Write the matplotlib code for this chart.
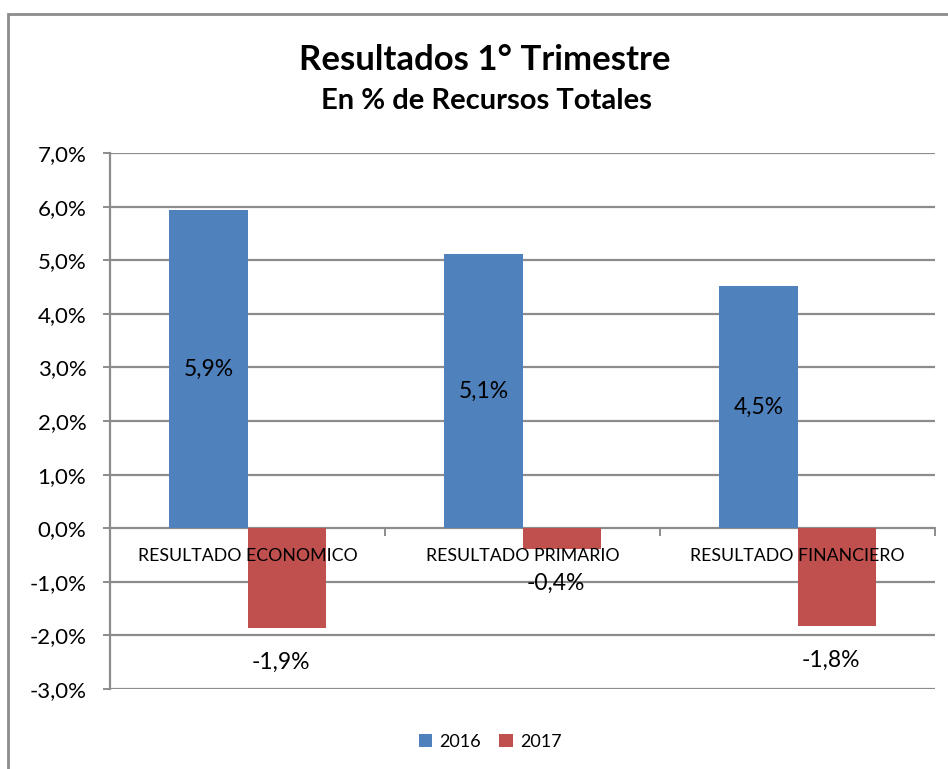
import matplotlib.pyplot as plt
import matplotlib.patches as mpatches
import numpy as np

categorias = ['RESULTADO ECONOMICO', 'RESULTADO PRIMARIO', 'RESULTADO FINANCIERO']
anios = ['2016', '2017']
valores_2016 = [5.94, 5.12, 4.52]
valores_2017 = [-1.87, -0.39, -1.83]
etiquetas_2016 = ['5,9%', '5,1%', '4,5%']
etiquetas_2017 = ['-1,9%', '-0,4%', '-1,8%']
yticks = [-3, -2, -1, 0, 1, 2, 3, 4, 5, 6, 7]

azul = '#4F81BD'
rojo = '#C0504D'
gris = '#8C8C8C'

plt.rcParams['font.family'] = ['Lato', 'DejaVu Sans']

fig = plt.figure(figsize=(9.48, 7.69), dpi=100)
W, H = 948, 769
ax = fig.add_axes([110 / W, (H - 689) / H, (935 - 110) / W, (689 - 153) / H])

x = np.arange(len(categorias))
ancho = 0.284
b1 = ax.bar(x - ancho / 2, valores_2016, ancho, color=azul, label=anios[0], zorder=2)
b2 = ax.bar(x + ancho / 2, valores_2017, ancho, color=rojo, label=anios[1], zorder=2)

ax.set_xlim(-0.5, len(categorias) - 0.5)
ax.set_ylim(-3, 7)
ax.set_yticks(yticks)
ax.set_yticklabels(['%d,0%%' % v for v in yticks], fontsize=16)
ax.set_xticks([])
ax.grid(axis='y', color=gris, linewidth=1.6, zorder=0)
for s in ['top', 'right', 'bottom']:
    ax.spines[s].set_visible(False)
ax.spines['left'].set_color(gris)
ax.spines['left'].set_linewidth(1.6)
ax.tick_params(axis='y', length=5, width=1.4, color=gris, pad=12)

# marcas del eje de categorias
for xb in [-0.5, 0.5, 1.5, 2.5]:
    ax.plot([xb, xb], [0, -0.13], color=gris, linewidth=1.4, zorder=1, clip_on=False)

for i, cat in enumerate(categorias):
    ax.annotate(cat, (x[i], 0), xytext=(0, -28), textcoords='offset pixels',
                ha='center', va='center', fontsize=12.8, zorder=3)

for i in range(len(categorias)):
    ax.text(x[i] - ancho / 2, valores_2016[i] / 2, etiquetas_2016[i],
            ha='center', va='center', fontsize=16.5, zorder=3)
    ax.annotate(etiquetas_2017[i], (x[i] + ancho / 2 - 0.02, valores_2017[i]),
                xytext=(0, -34), textcoords='offset pixels',
                ha='center', va='center', fontsize=16.5, zorder=3)

fig.text(485 / W, 1 - 60 / H, 'Resultados 1° Trimestre', ha='center', va='center',
         fontsize=25, fontweight='bold')
fig.text(486 / W, 1 - 101 / H, 'En % de Recursos Totales', ha='center', va='center',
         fontsize=21, fontweight='bold')

fig.legend(handles=[b1, b2], loc='center', bbox_to_anchor=(490 / W, 1 - 742 / H),
           ncol=2, frameon=False, fontsize=13, handlelength=0.75, handleheight=0.75,
           handletextpad=0.4, columnspacing=1.0)

borde = mpatches.Rectangle((8 / W, -0.1), 1.2, 1.1 - 14 / H, transform=fig.transFigure,
                           fill=False, edgecolor=gris, linewidth=2, clip_on=False)
fig.add_artist(borde)

fig.savefig('out.png', dpi=100)
